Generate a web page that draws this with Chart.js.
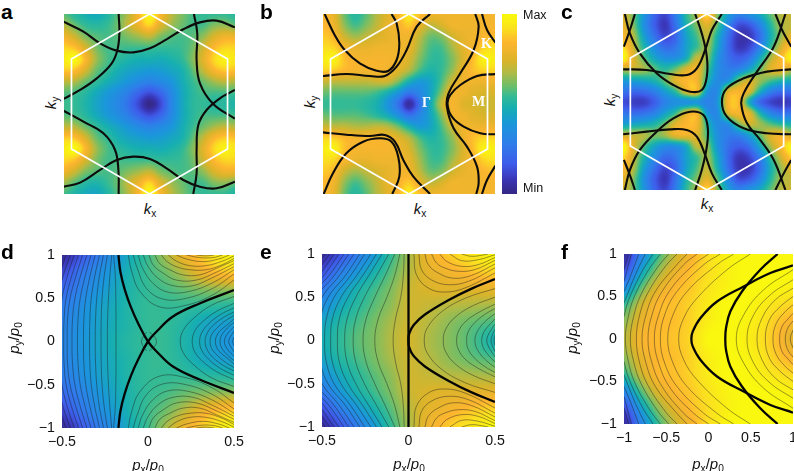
<!DOCTYPE html>
<html><head><meta charset="utf-8">
<script src="https://cdn.jsdelivr.net/npm/chart.js@4"></script>
<style>
html,body{margin:0;padding:0;background:#fff;width:794px;height:471px;overflow:hidden}
canvas{position:absolute;display:block}
.t{position:absolute;font-family:"Liberation Sans",Arial,sans-serif;color:#111;white-space:nowrap;line-height:1;transform:translate(-50%,-50%)}
.t.r{transform:translate(-50%,-50%) rotate(-90deg)}
.t i{font-style:italic}.t sub{font-size:.68em;vertical-align:baseline;position:relative;top:.3em;line-height:0}
.p{font-weight:bold;font-size:21px;color:#000;transform:none}
.w{font-family:"Liberation Serif",serif;font-weight:bold;color:#fff;font-size:14px}
</style></head><body>
<script>
// ---------- tick labels ----------
const ticksPY=[-1,-0.5,0,0.5,1];
const ticksPXde=[-0.5,0,0.5];
const ticksPXf=[-1,-0.5,0,0.5,1];
const colorbarTicks=[3,99];
const colorbarLabels=['Min','Max'];
// ---------- heat grids, rows top to bottom, 0 (min) .. 100 (max) ----------
const heatA=[
[58,52,48,46,50,58,68,84,100,84,70,62,56,54,54,54,52],
[68,60,54,52,54,60,70,80,90,76,66,60,56,56,62,64,60],
[80,72,62,58,56,58,62,66,70,62,58,56,58,64,74,80,80],
[90,86,74,62,56,56,55,55,55,54,54,55,60,72,84,90,90],
[96,100,84,66,57,53,50,48,48,47,49,53,62,76,90,98,94],
[88,86,74,60,54,48,44,42,40,41,44,48,58,70,82,88,86],
[70,68,60,54,48,43,38,33,30,33,38,46,54,60,66,70,68],
[58,56,52,46,40,35,28,20,14,20,32,44,52,56,56,56,56],
[55,54,50,44,38,32,24,12,0,12,30,44,52,54,52,52,50],
[58,56,52,46,40,35,28,20,14,20,32,44,52,56,56,56,56],
[70,68,60,54,48,43,38,33,30,33,38,46,54,60,66,70,68],
[88,86,74,60,54,48,44,42,40,41,44,48,58,70,82,88,86],
[96,100,84,66,57,53,50,48,48,47,49,53,62,76,90,98,94],
[90,86,74,62,56,56,55,55,55,54,54,55,60,72,84,90,90],
[80,72,62,58,56,58,62,66,70,62,58,56,58,64,74,80,80],
[66,58,52,50,54,60,70,80,90,76,66,60,56,56,62,64,60],
[56,50,46,44,50,58,68,84,100,84,70,62,56,54,54,54,50]];
const heatB=[
[84,78,60,52,58,68,76,84,96,86,80,80,80,80,80,82,82],
[84,80,64,56,62,70,78,82,88,78,70,74,80,80,80,82,82],
[88,84,72,66,70,74,78,80,80,70,60,62,72,78,80,84,86],
[92,90,82,78,78,80,80,80,78,66,56,56,66,76,82,90,92],
[96,98,86,82,82,82,82,80,74,62,54,54,62,74,86,98,96],
[90,88,84,82,82,82,80,76,68,56,50,54,64,78,86,90,90],
[72,70,70,70,70,72,72,62,48,40,44,56,72,80,80,80,80],
[60,58,58,58,58,55,48,38,26,32,44,62,80,80,76,74,74],
[54,54,54,54,52,48,38,24,4,24,46,70,82,76,74,72,72],
[60,58,58,58,56,52,46,36,24,32,44,62,80,80,76,74,74],
[72,70,70,68,68,70,68,60,48,40,44,56,72,80,80,80,80],
[90,88,84,82,82,82,80,76,68,56,50,54,64,78,86,90,90],
[96,98,86,82,82,82,82,80,74,62,54,54,62,74,86,98,96],
[92,90,82,78,78,80,80,80,78,66,56,56,66,76,82,90,92],
[88,84,72,66,70,74,78,80,80,70,60,62,72,78,80,84,86],
[84,80,64,56,62,70,78,82,88,78,70,74,80,80,80,82,82],
[84,78,60,52,58,68,76,84,96,86,80,80,80,80,80,82,82]];
const heatC=[
[74,60,38,20,12,28,52,68,92,62,42,30,36,44,58,68,72],
[78,62,36,18,8,24,48,62,76,58,32,14,16,30,50,66,70],
[84,68,42,24,12,20,42,56,70,48,24,8,8,22,46,64,76],
[92,72,50,34,22,26,42,54,66,44,22,8,12,28,52,72,88],
[100,76,58,44,36,36,46,70,64,38,24,18,24,44,66,82,98],
[70,70,66,58,52,60,74,80,58,36,28,30,42,58,74,80,72],
[42,44,46,50,60,76,84,82,52,34,36,60,72,66,58,52,48],
[26,22,24,30,42,54,76,82,40,34,74,82,76,50,32,24,24],
[14,10,10,18,30,36,36,38,30,38,82,84,48,22,12,8,10],
[26,22,24,30,42,54,74,80,40,34,74,82,76,50,32,24,24],
[42,44,46,50,60,76,84,82,52,34,36,60,72,66,58,52,48],
[72,70,68,62,66,78,80,76,56,36,28,30,42,58,74,80,72],
[100,76,58,44,36,36,46,70,64,38,24,18,24,44,66,82,98],
[92,72,50,34,22,26,42,54,66,44,22,8,12,28,52,72,88],
[84,68,42,24,12,20,42,56,70,48,24,8,8,22,46,64,76],
[78,62,36,18,8,24,48,62,76,58,32,14,16,30,50,66,70],
[74,60,38,20,12,28,52,68,92,62,42,30,36,44,58,68,72]];
const heatD=[
[3,14,26,36,47,55,66,78,88,95,99],
[12,24,33,41,49,55,60,68,78,85,88],
[21,29,37,44,50,54,56,59,62,64,65],
[27,34,41,46,51,54,54,54,53,52,51],
[30,36,42,47,51,54,54,51,46,42,41],
[31,37,43,48,52,54,54,50,46,41,37],
[30,36,42,47,51,54,54,51,46,42,41],
[27,34,41,46,51,54,54,54,53,52,51],
[21,29,37,44,50,54,56,59,62,64,65],
[12,24,33,41,49,55,60,68,78,85,88],
[3,14,26,36,47,55,66,78,88,95,99]];
const heatE=[
[4,14,27,40,54,66,78,86,92,96,100],
[14,27,38,48,58,68,76,80,84,88,90],
[26,38,48,55,62,71,74,76,76,77,78],
[36,45,52,58,64,72,71,69,68,67,66],
[44,51,56,61,67,72,69,65,61,58,56],
[47,53,58,62,68,73,68,64,60,55,48],
[44,51,56,61,67,72,69,65,61,58,56],
[36,45,52,58,64,72,71,69,68,67,66],
[26,38,48,55,62,71,74,76,76,77,78],
[14,27,38,48,58,68,76,80,84,88,90],
[4,14,27,40,54,66,78,86,92,96,100]];
const heatF=[
[3,30,54,70,82,92,98,100,100,100,100],
[14,42,64,78,86,92,97,100,100,100,100],
[34,58,76,84,88,94,98,100,100,99,97],
[54,72,84,86,90,96,100,100,97,93,90],
[64,78,84,86,90,97,100,99,95,88,82],
[68,82,85,87,91,100,100,98,93,86,76],
[64,78,84,86,90,97,100,99,95,88,82],
[54,72,84,86,90,96,100,100,97,93,90],
[34,58,76,84,88,94,98,100,100,99,97],
[14,42,64,78,86,92,97,100,100,100,100],
[3,30,54,70,82,92,98,100,100,100,100]];
const colorbarRows=[[100,100],[87.5,87.5],[75,75],[62.5,62.5],[50,50],[37.5,37.5],[25,25],[12.5,12.5],[0,0]];
// ---------- Brillouin-zone hexagon (x,y flat) ----------
const hexagon=[0,1,0.868,0.5,0.868,-0.5,0,-1,-0.868,-0.5,-0.868,0.5,0,1];
// ---------- black Fermi contours of a, b, c (x,y flat) ----------
const linesA=[
[-.343,1,-.335,.785,-.357,.6,-.42,.452,-.587,.285,-.772,.156,-.957,.056],
[-.957,.915,-.735,.804,-.55,.674,-.365,.593,-.18,.574,.006,.619,.19,.719,.376,.83,.561,.907,.746,.926,.95,.852],
[.494,1,.531,.785,.524,.489,.561,.23,.709,0,.95,-.163],
[.95,.156,.783,.063,.635,-.067,.543,-.233,.524,-.511,.524,-.77,.487,-1],
[-.957,-.074,-.735,-.196,-.513,-.326,-.383,-.511,-.346,-.733,-.343,-1],
[-.957,-.919,-.772,-.874,-.55,-.733,-.365,-.622,-.18,-.585,.006,-.611,.19,-.715,.376,-.844,.561,-.919,.746,-.937,.95,-.863]];
const linesB=[
[-.933,1,-.822,.767,-.711,.6,-.544,.452,-.359,.37,-.23,.367,-.137,.489,-.107,.674,-.137,.896,-.193,1],
[-.952,.311,-.693,.333,-.433,.311,-.267,.311,-.137,.415,-.026,.6,.085,.859,.233,1],
[-.952,-.315,-.693,-.341,-.433,-.356,-.267,-.344,-.156,-.419,-.063,-.622,.048,-.807,.233,-1],
[-.944,-1,-.841,-.77,-.693,-.548,-.507,-.419,-.322,-.381,-.193,-.419,-.119,-.585,-.107,-.807,-.185,-1],
[.956,.333,.752,.311,.567,.211,.456,.1,.426,0,.474,-.141,.604,-.252,.789,-.326,.956,-.337],
[.733,1,.77,.859,.715,.6,.567,.341,.437,.119,.419,-.03,.493,-.27,.641,-.474,.752,-.696,.77,-.881,.744,-1],
[.807,1,.863,.822,.956,.681],
[.807,-1,.863,-.844,.956,-.685]];
const linesC=[
[-.93,1,-.873,.78,-.76,.553,-.57,.326,-.381,.193,-.191,.117,-.059,.136,-.002,.288,-.002,.515,-.059,.78,-.134,1],
[-.949,.371,-.684,.364,-.418,.318,-.229,.307,-.115,.383,-.021,.591,.055,.818,.168,1],
[-.816,1,-.873,.818,-.941,.629],
[.888,1,.756,.629,.566,.345,.415,.098,.388,-.023,.453,-.242,.604,-.432,.756,-.659,.888,-1],
[.953,.371,.68,.345,.415,.269,.225,.155,.169,.004,.225,-.167,.415,-.299,.68,-.356,.953,-.367],
[.775,1,.85,.818,.953,.629],
[.775,-1,.85,-.848,.953,-.659],
[-.93,-1,-.873,-.773,-.76,-.545,-.57,-.337,-.381,-.186,-.191,-.11,-.04,-.148,.009,-.299,-.002,-.508,-.059,-.773,-.134,-1],
[-.949,-.367,-.684,-.337,-.418,-.311,-.229,-.318,-.115,-.394,-.021,-.602,.055,-.811,.168,-1],
[-.816,-1,-.873,-.83,-.941,-.659]];
// ---------- contours of d, e, f: upper half only (x,y flat); the plots are mirror images about y=0 ----------
const thickD=[[-.172,1,-.16,.8,-.135,.6,-.1,.4,-.055,.2,0,0,.05,-.115,.145,-.29,.3,-.44,.5,-.595]];
const thinD=[
[-.186,0,-.186,.25,-.187,.5,-.19,.75,-.2,1],
[-.236,0,-.235,.25,-.23,.5,-.222,.75,-.211,1],
[-.273,0,-.272,.25,-.267,.5,-.255,.75,-.236,1],
[-.307,0,-.305,.25,-.298,.5,-.283,.75,-.259,1],
[-.34,0,-.338,.25,-.33,.5,-.31,.75,-.282,1],
[-.375,0,-.373,.25,-.362,.5,-.338,.75,-.307,1],
[-.41,0,-.407,.25,-.394,.5,-.366,.75,-.332,1],
[-.442,0,-.439,.25,-.425,.5,-.394,.75,-.355,1],
[-.47,0,-.468,.25,-.453,.5,-.42,.75,-.38,1],
[-.49,0,-.488,.25,-.476,.5,-.445,.75,-.404,1],
[-.515,0,-.512,.25,-.5,.5,-.47,.75,-.429,1],
[-.54,0,-.538,.25,-.525,.5,-.495,.75,-.452,1],
[-.57,0,-.565,.25,-.55,.5,-.52,.75,-.477,1],
[-.038,0,-.03,.05,-.008,.11],
[.049,0,.04,.05,.008,.11],
[.188,0,.205,.13,.266,.27,.37,.42,.5,.52],
[.257,0,.272,.12,.318,.23,.4,.35,.5,.44],
[.3,0,.312,.1,.35,.2,.42,.31,.5,.39],
[.332,0,.343,.09,.375,.18,.44,.28,.5,.34],
[.361,0,.37,.08,.398,.15,.45,.24,.5,.3],
[.392,0,.4,.07,.422,.13,.465,.2,.5,.26],
[.419,0,.425,.06,.445,.12,.48,.19,.5,.22],
[.444,0,.45,.05,.47,.11,.5,.17],
[.469,0,.475,.04,.5,.12],
[.492,0,.5,.05],
[-.115,1,-.095,.81,-.047,.58,.068,.4,.223,.42,.377,.54,.5,.71],
[-.086,1,-.063,.85,-.009,.615,.088,.49,.223,.5,.377,.615,.5,.78],
[-.057,1,-.032,.85,.03,.67,.117,.57,.242,.58,.377,.68,.5,.83],
[-.028,1,.001,.865,.059,.73,.145,.645,.261,.645,.377,.74,.5,.865],
[.005,1,.03,.885,.088,.79,.165,.71,.28,.71,.396,.8,.5,.9],
[.04,1,.068,.9,.126,.83,.203,.77,.3,.77,.396,.845,.5,.935],
[.078,1,.107,.93,.165,.865,.242,.83,.338,.83,.434,.89,.5,.96],
[.117,1,.165,.93,.242,.877,.338,.877,.434,.93,.5,.99],
[.165,1,.223,.954,.319,.923,.411,.954,.473,1],
[.223,1,.3,.97,.377,.97,.434,1],
[.28,1,.338,.99,.385,1]];
const thickE=[[0,0,0,1],[0,0,.004,.08,.03,.18,.095,.3,.23,.465,.365,.6,.5,.71]];
const thinE=[
[-.089,0,-.075,.25,-.045,.5,-.03,.75,-.025,1],
[-.195,0,-.175,.25,-.125,.5,-.08,.75,-.05,1],
[-.263,0,-.245,.25,-.195,.5,-.135,.75,-.079,1],
[-.32,0,-.305,.25,-.255,.5,-.185,.75,-.114,1],
[-.369,0,-.355,.25,-.305,.5,-.23,.75,-.153,1],
[-.411,0,-.4,.25,-.35,.5,-.265,.75,-.185,1],
[-.45,0,-.44,.25,-.39,.5,-.3,.75,-.218,1],
[-.485,0,-.475,.25,-.43,.5,-.335,.75,-.253,1],
[-.52,0,-.51,.25,-.465,.5,-.365,.75,-.282,1],
[-.555,0,-.545,.25,-.5,.5,-.4,.75,-.315,1],
[-.59,0,-.58,.25,-.535,.5,-.43,.75,-.346,1],
[-.625,0,-.615,.25,-.57,.5,-.46,.75,-.373,1],
[-.66,0,-.65,.25,-.6,.5,-.49,.75,-.403,1],
[-.695,0,-.685,.25,-.635,.5,-.52,.75,-.43,1],
[-.73,0,-.72,.25,-.67,.5,-.55,.75,-.456,1],
[-.765,0,-.755,.25,-.705,.5,-.58,.75,-.481,1],
[.091,0,.11,.15,.19,.33,.33,.49,.5,.6],
[.201,0,.215,.13,.27,.27,.37,.4,.5,.5],
[.278,0,.29,.11,.33,.22,.41,.33,.5,.42],
[.336,0,.345,.1,.38,.2,.44,.3,.5,.37],
[.384,0,.392,.08,.42,.17,.46,.25,.5,.31],
[.423,0,.43,.07,.45,.14,.5,.25],
[.452,0,.46,.06,.48,.13,.5,.19],
[.477,0,.483,.05,.5,.13],
[.494,0,.5,.06],
[.031,1,.046,.76,.114,.607,.21,.56,.326,.607,.5,.78],
[.06,1,.075,.82,.133,.7,.23,.645,.346,.684,.5,.84],
[.095,1,.114,.877,.172,.78,.259,.72,.365,.753,.5,.884],
[.133,1,.162,.896,.21,.838,.288,.8,.384,.82,.5,.927],
[.181,1,.22,.915,.307,.857,.403,.877,.5,.96],
[.239,1,.307,.923,.403,.934,.5,.992],
[.307,1,.365,.973,.442,.992,.461,1]];
const thickF=[
[.199,0,.207,.126,.258,.323,.396,.559,.613,.815,.818,1],
[-.203,0,-.187,.087,-.097,.244,.101,.441,.416,.618,.732,.776,1,.866]];
const thinF=[
[-.353,0,-.294,.244,-.136,.48,.219,.815,.495,1],
[-.483,0,-.42,.283,-.254,.559,.1,.874,.298,1],
[-.57,0,-.519,.283,-.373,.559,-.057,.874,.14,1],
[-.641,0,-.59,.283,-.452,.579,-.176,.874,.002,1],
[-.716,0,-.669,.283,-.55,.559,-.294,.874,-.136,1],
[-.787,0,-.74,.283,-.629,.559,-.393,.854,-.254,1],
[-.854,0,-.815,.283,-.72,.539,-.511,.854,-.373,1],
[-.925,0,-.886,.264,-.8,.52,-.61,.835,-.471,1],
[-.984,0,-.953,.244,-.878,.5,-.708,.815,-.57,1],
[-1,.264,-.945,.46,-.787,.795,-.657,1],
[-1,.421,-.866,.756,-.748,1],
[-1,.559,-.925,.736,-.826,1],
[-1,.677,-.913,1],
[-1,.815,-.945,1],
[.329,0,.416,.283,.653,.579,1,.815],
[.456,0,.534,.283,.732,.52,1,.697],
[.574,0,.633,.244,.791,.461,1,.598],
[.673,0,.72,.224,.85,.382,1,.5],
[.763,0,.803,.185,.909,.323,1,.402],
[.842,0,.87,.146,.949,.244,1,.303],
[.909,0,.937,.126,1,.213],
[.968,0,1,.106]];

// ---------- colour map ----------
const mapStops=[[0,53,40,135],[8,58,54,184],[17,62,92,234],[28,46,126,234],[39,26,151,218],[48,23,175,176],[54,50,186,150],[60,109,190,106],[68,180,186,66],[74,217,180,42],[84,253,181,47],[92,251,223,32],[100,249,248,14]];
function colorOf(v){
  v=Math.max(0,Math.min(100,v));
  for(let i=1;i<mapStops.length;i++){
    const a=mapStops[i-1],b=mapStops[i];
    if(v<=b[0]){const t=(v-a[0])/(b[0]-a[0]);return [a[1]+t*(b[1]-a[1]),a[2]+t*(b[2]-a[2]),a[3]+t*(b[3]-a[3])];}
  }
  return mapStops[mapStops.length-1].slice(1);
}
function cr(p0,p1,p2,p3,t){return p1+.5*t*(p2-p0+t*(2*p0-5*p1+4*p2-p3+t*(3*(p1-p2)+p3-p0)));}
// Draws the heat dataset smoothly (shaded like the original) at the positions the scales gave its cells.
const heatPlugin={id:'heat',beforeDatasetDraw(chart,args){
  const ds=chart.data.datasets[args.index];
  if(!ds.heatRows) return;
  const pts=args.meta.data, R=ds.heatRows, nr=R.length, nc=R[0].length;
  const x0=pts[0].x,y0=pts[0].y,x1=pts[nc-1].x,y1=pts[(nr-1)*nc].y;
  const w=Math.round(x1-x0),h=Math.round(y1-y0);
  const off=document.createElement('canvas');off.width=w;off.height=h;
  const c=off.getContext('2d'),im=c.createImageData(w,h);
  const cl=(a,n)=>a<0?0:a>=n?n-1:a;
  for(let j=0;j<h;j++){
    const fy=(j+.5)/h*(nr-1),iy=Math.floor(fy),ty=fy-iy;
    for(let i=0;i<w;i++){
      const fx=(i+.5)/w*(nc-1),ix=Math.floor(fx),tx=fx-ix;
      const col=[];
      for(let m=-1;m<=2;m++){
        const r=R[cl(iy+m,nr)];
        col.push(cr(r[cl(ix-1,nc)],r[cl(ix,nc)],r[cl(ix+1,nc)],r[cl(ix+2,nc)],tx));
      }
      const rgb=colorOf(cr(col[0],col[1],col[2],col[3],ty)),k=(j*w+i)*4;
      im.data[k]=rgb[0];im.data[k+1]=rgb[1];im.data[k+2]=rgb[2];im.data[k+3]=255;
    }
  }
  c.putImageData(im,0,0);
  chart.ctx.drawImage(off,x0,y0,x1-x0,y1-y0);
  return false;
}};
Chart.register(heatPlugin);

const pairs=f=>{const o=[];for(let i=0;i<f.length;i+=2)o.push({x:f[i],y:f[i+1]});return o;};
function lineDs(points,width,color,order,tension){
  return {type:'scatter',data:points,showLine:true,fill:false,borderColor:color,borderWidth:width,pointRadius:0,tension:tension,capBezierPoints:false,order:order,clip:0};
}
function heatDs(rows,xr,yr){
  const data=[],nr=rows.length,nc=rows[0].length;
  rows.forEach((row,j)=>row.forEach((v,i)=>data.push({x:xr[0]+(xr[1]-xr[0])*i/(nc-1),y:yr[1]-(yr[1]-yr[0])*j/(nr-1),v})));
  return {type:'scatter',data,heatRows:rows,pointRadius:0,order:10};
}
function mirrored(flat,width,color){
  const p=pairs(flat);
  if(p[0].y===0){
    const low=p.slice(1).reverse().map(q=>({x:q.x,y:-q.y}));
    return [lineDs(low.concat(p),width,color,5,.4)];
  }
  return [lineDs(p,width,color,5,.4),lineDs(p.map(q=>({x:q.x,y:-q.y})),width,color,5,.4)];
}
const tickFmt=v=>String(v).replace('-','\u2212');
function place(id,left,top,w,h){
  const c=document.createElement('canvas');c.id=id;c.width=w;c.height=h;
  c.style.left=left+'px';c.style.top=top+'px';c.style.width=w+'px';c.style.height=h+'px';
  document.body.appendChild(c);return c;
}
const baseOpts=()=>({responsive:false,animation:false,devicePixelRatio:1,events:[],plugins:{legend:{display:false},tooltip:{enabled:false}}});
const noPad=s=>{s.paddingLeft=s.paddingRight=s.paddingTop=s.paddingBottom=0;};

function topPanel(id,rect,rows,lines){
  const xr=[-.951,.951],yr=[-1,1];
  const c=place(id,rect[0],rect[1],rect[2],rect[3]);
  const ds=[heatDs(rows,xr,yr)];
  lines.forEach(f=>ds.push(lineDs(pairs(f),2.1,'#0c0c0c',5,.4)));
  ds.push(lineDs(pairs(hexagon),1.7,'#ffffff',1,0));
  const o=baseOpts();
  o.layout={padding:0,autoPadding:false};
  o.scales={x:{type:'linear',display:false,min:xr[0],max:xr[1]},y:{type:'linear',display:false,min:yr[0],max:yr[1]}};
  new Chart(c,{type:'scatter',data:{datasets:ds},options:o});
}
function bottomPanel(id,rect,rows,xr,xticks,yticks,thin,thick){
  const L=50,T=12,B=30,Rp=(rect[0]+rect[2]+16>794)?794-rect[0]-rect[2]:16;
  const c=place(id,rect[0]-L,rect[1]-T,L+rect[2]+Rp,T+rect[3]+B);
  const ds=[heatDs(rows,xr,[-1,1])];
  thin.forEach(f=>ds.push(...mirrored(f,.7,'rgba(25,25,25,.62)')));
  thick.forEach(f=>ds.push(...mirrored(f,2.3,'#050505')));
  const font={family:'"Liberation Sans",Arial,sans-serif',size:14.2};
  const scale=(vals,extra)=>Object.assign({type:'linear',grid:{display:false,drawTicks:false},border:{display:false},
    afterBuildTicks:s=>{s.ticks=vals.map(v=>({value:v}));},
    ticks:{callback:tickFmt,font,color:'#111',maxRotation:0,autoSkip:false,includeBounds:false}},extra);
  const o=baseOpts();
  o.layout={padding:{left:0,top:T,right:Rp,bottom:0},autoPadding:false};
  const xs=scale(xticks,{min:xr[0],max:xr[1],afterFit:s=>{s.height=B;noPad(s);}});xs.ticks.padding=6;
  const ys=scale(yticks,{min:-1,max:1,afterFit:s=>{s.width=L;noPad(s);}});ys.ticks.padding=7;
  o.scales={x:xs,y:ys};
  new Chart(c,{type:'scatter',data:{datasets:ds},options:o});
}
function colorbar(){
  const rect=[502,14,15,180],Rp=40;
  const c=place('cbar',rect[0],rect[1]-8,rect[2]+Rp,rect[3]+16);
  const ds=[heatDs(colorbarRows,[0,1],[0,100])];
  const o=baseOpts();
  o.layout={padding:{left:0,top:8,right:0,bottom:8},autoPadding:false};
  o.scales={x:{type:'linear',display:false,min:0,max:1},
    y:{type:'linear',position:'right',min:0,max:100,grid:{display:false,drawTicks:false},border:{display:false},
      afterBuildTicks:s=>{s.ticks=colorbarTicks.map(v=>({value:v}));},afterFit:s=>{s.width=Rp;noPad(s);},
      ticks:{callback:v=>colorbarLabels[colorbarTicks.indexOf(v)],font:{family:'"Liberation Sans",Arial,sans-serif',size:12.5},color:'#111',padding:6,autoSkip:false}}};
  new Chart(c,{type:'scatter',data:{datasets:ds},options:o});
}
topPanel('a',[64,14,171,180],heatA,linesA);
topPanel('b',[323,14,172,180],heatB,linesB);
topPanel('c',[623,14,168,176],heatC,linesC);
colorbar();
bottomPanel('d',[62,255,172,173],heatD,[-.5,.5],ticksPXde,ticksPY,thinD,thickD);
bottomPanel('e',[322,254,173,173],heatE,[-.5,.5],ticksPXde,ticksPY,thinE,thickE);
bottomPanel('f',[624,254,169,170],heatF,[-1,1],ticksPXf,ticksPY,thinF,thickF);

function text(html,x,y,cls,size){
  const d=document.createElement('div');d.className='t '+(cls||'');d.innerHTML=html;
  d.style.left=x+'px';d.style.top=y+'px';if(size)d.style.fontSize=size+'px';
  document.body.appendChild(d);
}
const kx='<i>k</i><sub>x</sub>',ky='<i>k</i><sub>y</sub>';
const px='<i>p</i><sub>x</sub>/<i>p</i><sub>0</sub>',py='<i>p</i><sub>y</sub>/<i>p</i><sub>0</sub>';
[['a',1,-1],['b',260,-1],['c',561,-1],['d',1,239],['e',260,239],['f',561,239]].forEach(p=>{
  const d=document.createElement('div');d.className='t p';d.textContent=p[0];d.style.left=p[1]+'px';d.style.top=(p[2]+2)+'px';document.body.appendChild(d);
});
text(kx,150,208,'',15);text(ky,50,103,'r',15);
text(kx,420,208,'',15);text(ky,309,102,'r',15);
text(kx,707,203,'',15);text(ky,609,100,'r',15);
text(px,148,464,'',15);text(py,13,338,'r',15);
text(px,409,463,'',15);text(py,273,338,'r',15);
text(px,708,463,'',15);text(py,571,338,'r',15);
text('\u0393',426.5,103,'w');text('M',478.5,102,'w');text('K',486.5,44,'w');
</script>
</body></html>
